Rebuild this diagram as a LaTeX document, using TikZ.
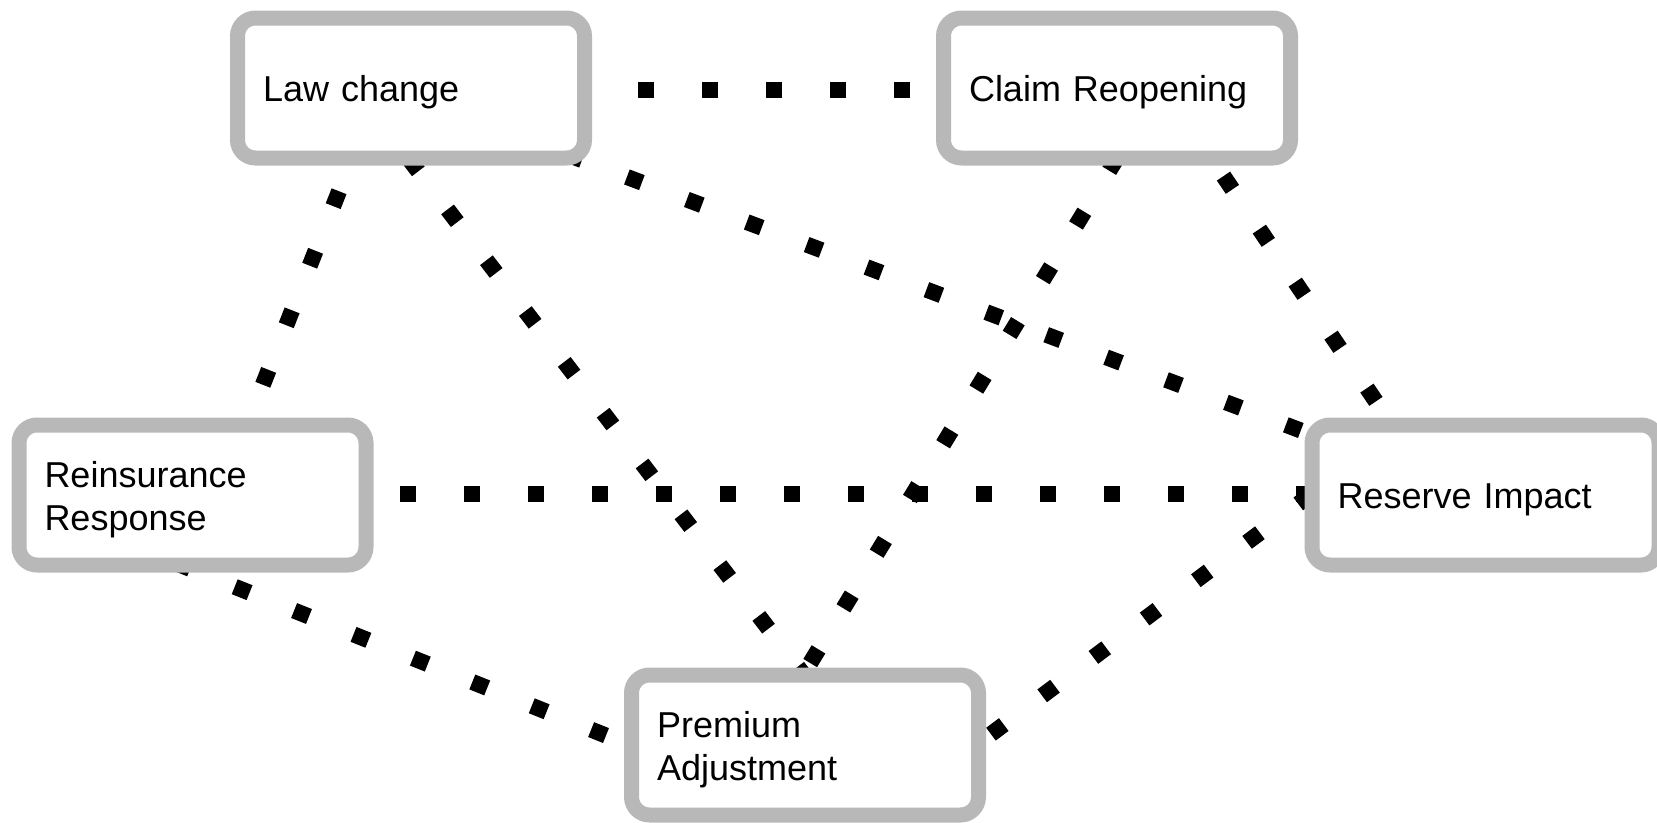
\documentclass[tikz,border=0pt]{standalone}
\usepackage{fontspec}
\setmainfont{Liberation Sans}
\usepackage{tikz}
\usetikzlibrary{positioning}
\usetikzlibrary{backgrounds}
\definecolor{boxgray}{RGB}{184,184,184}
\tikzstyle{box} = [draw=boxgray,line width=15pt,rounded corners=18pt,fill=white,minimum width=347pt,minimum height=140pt,inner xsep=25.5pt,inner ysep=0pt,text width=296pt,text height=35pt,align=left,font=\fontsize{36pt}{43pt}\selectfont]
\tikzstyle{dots} = [line width=16pt,dash pattern=on 16pt off 48pt]

\begin{document}
\begin{tikzpicture}[x=1pt,y=-1pt]
	\useasboundingbox (0,0) rectangle (1657,822);

	%Nodes
	\node [box] (law) at (411,88) {Law change};
	\node [box, right=344pt of law] (claim) {Claim Reopening};
	\node [box] (reins) at (192.5,495) {Reinsurance\\Response};
	\node [box] (reserve) at (1485.5,495) {Reserve Impact};
	\node [box] (premium) at (805,745) {Premium\\Adjustment};

	%Lines
	\begin{scope}[on background layer]
		\draw[dots] ([shift={(35,2)}]law.center) -- ([shift={(-79,2)}]claim.center);
		\draw[dots] ([shift={(-48.5,43.7)}]law.center) -- ([shift={(46.2,-49)}]reins.center);
		\draw[dots] ([shift={(-41.3,19.8)}]law.center) -- ([shift={(40.5,-15.8)}]premium.center);
		\draw[dots] ([shift={(96.1,43.9)}]law.center) -- ([shift={(-126.7,-42.7)}]reserve.center);
		\draw[dots] ([shift={(33.8,14.4)}]claim.center) -- ([shift={(-62.1,28.8)}]premium.center);
		\draw[dots] ([shift={(70.6,35.1)}]claim.center) -- ([shift={(-73.4,-40.1)}]reserve.center);
		\draw[dots] ([shift={(143.5,-1.5)}]reins.center) -- ([shift={(-111.5,-1.5)}]reserve.center);
		\draw[dots] ([shift={(-76.6,44.1)}]reins.center) -- ([shift={(-140,14.2)}]premium.center);
		\draw[dots] ([shift={(83.5,65.9)}]premium.center) -- ([shift={(-122,-39.9)}]reserve.center);
	\end{scope}
\end{tikzpicture}
\end{document}
